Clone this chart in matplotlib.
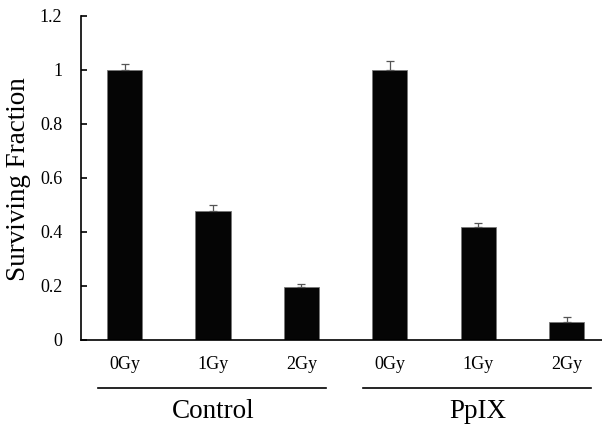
import numpy as np
import matplotlib
matplotlib.use("Agg")
import matplotlib.pyplot as plt
from matplotlib.ticker import FuncFormatter
import matplotlib.transforms as mtransforms

plt.rcParams['font.family'] = ['Liberation Serif', 'DejaVu Serif']

# data
doses = ['0Gy', '1Gy', '2Gy']
groups = ['Control', 'PpIX']
control = [1.0, 0.478, 0.196]
control_err = [0.023, 0.022, 0.011]
ppix = [1.0, 0.42, 0.068]
ppix_err = [0.033, 0.013, 0.017]
yticks = [0, 0.2, 0.4, 0.6, 0.8, 1.0, 1.2]

values = control + ppix
errs = control_err + ppix_err
labels = doses + doses
x = np.arange(len(values))

fig = plt.figure(figsize=(6.02, 4.28), dpi=100)
ax = fig.add_axes([81/602, 88/428, 521/602, 324/428])

ax.bar(x, values, width=0.4, color='#050505', edgecolor='#777777', linewidth=0.6)
ax.errorbar(x, values, yerr=[np.zeros(len(errs)), errs], fmt='none',
            ecolor='#555555', elinewidth=0.9, capsize=3, capthick=0.9)

ax.set_xlim(-0.492, 5.40)
ax.set_ylim(0, 1.2)
ax.set_yticks(yticks)
ax.yaxis.set_major_formatter(FuncFormatter(lambda v, p: '%g' % v))
ax.set_xticks(x)
ax.set_xticklabels(labels)
ax.tick_params(axis='x', length=0, pad=11.5, labelsize=13)
ax.tick_params(axis='y', direction='in', length=4.5, width=1.2, pad=13.5, labelsize=13)

for s in ['top', 'right']:
    ax.spines[s].set_visible(False)
ax.spines['left'].set_linewidth(1.2)
ax.spines['bottom'].set_linewidth(1.2)

# group brackets under the dose labels
trans = mtransforms.blended_transform_factory(ax.transData, ax.transAxes)
for i, g in enumerate(groups):
    x0 = i * 3 - 0.30
    x1 = i * 3 + 2.28
    ax.plot([x0, x1], [-0.148, -0.148], color='black', lw=1.2,
            transform=trans, clip_on=False)
    ax.text(i * 3 + 1.0, -0.222, g, transform=trans, ha='center', va='center',
            fontsize=19.5)

fig.text(19/602, 1 - 179/428, 'Surviving Fraction', rotation=90,
         ha='center', va='center', fontsize=19.5)

fig.savefig('out.png', dpi=100)
